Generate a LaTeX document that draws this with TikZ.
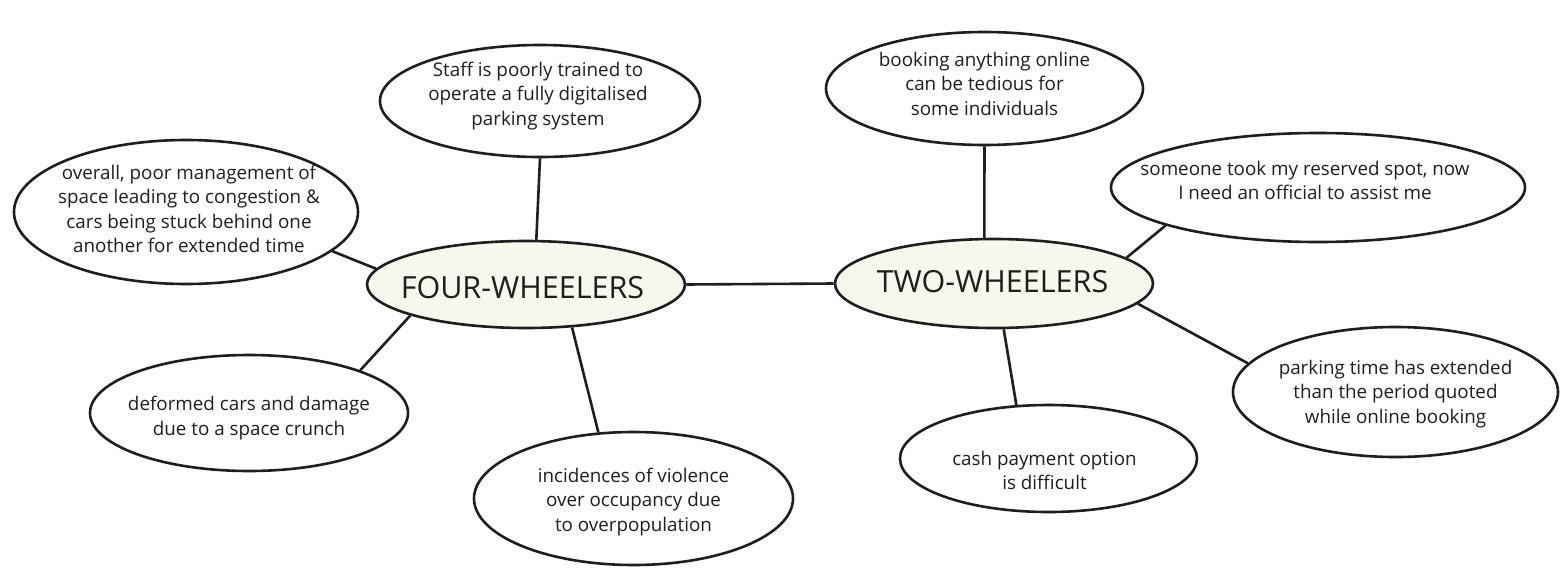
\documentclass[tikz,border=0pt]{standalone}
\usepackage{fontspec}
\setmainfont{Open Sans}
\usetikzlibrary{shapes.geometric}
\definecolor{cream}{RGB}{248,247,237}
\definecolor{ink}{RGB}{30,30,30}
\begin{document}
\begin{tikzpicture}[x=1pt,y=-1pt,
  bub/.style={draw=ink, line width=2.6pt, ellipse, inner sep=0pt, fill=white},
  hub/.style={bub, fill=cream},
  hubtxt/.style={font=\fontsize{30.5}{36}\selectfont, text=ink, inner sep=0pt},
  txt/.style={align=center, font=\fontsize{18.8}{24.5}\selectfont, text=ink, inner sep=0pt},
  link/.style={line width=2.6pt, draw=ink}]
\useasboundingbox[fill=white] (0,0) rectangle (1564,576);
% hubs
\node[hub, minimum width=318pt, minimum height=87pt] (fw) at (526,284.5) {};
\node[hub, minimum width=318pt, minimum height=89pt] (tw) at (994,283.5) {};
\node[hubtxt] (fwT) at ([shift={(-3.5,3)}]fw.center) {FOUR-WHEELERS};
\node[hubtxt] (twT) at ([shift={(-1.5,-2)}]tw.center) {TWO-WHEELERS};
% bubbles
\node[bub, minimum width=320pt, minimum height=112pt] (staff) at (540,101) {};
\node[bub, minimum width=344pt, minimum height=144pt] (overall) at (186,212) {};
\node[bub, minimum width=318pt, minimum height=116pt] (deformed) at (249,413) {};
\node[bub, minimum width=319pt, minimum height=133pt] (incid) at (633.5,498.5) {};
\node[bub, minimum width=317pt, minimum height=113pt] (booking) at (984.5,88.5) {};
\node[bub, minimum width=414pt, minimum height=109pt] (someone) at (1318,187.5) {};
\node[bub, minimum width=325pt, minimum height=130pt] (parking) at (1395.5,392) {};
\node[bub, minimum width=297pt, minimum height=107pt] (cash) at (1048.5,458.5) {};
% texts
\node[txt] (staffT) at ([shift={(-2,-5)}]staff.center) {Staff is poorly trained to\\operate a fully digitalised\\parking system};
\node[txt] (overallT) at ([shift={(3,-3)}]overall.center) {overall, poor management of\\space leading to congestion \&\\cars being stuck behind one\\another for extended time};
\node[txt] (deformedT) at ([shift={(0,5)}]deformed.center) {deformed cars and damage\\due to a space crunch};
\node[txt] (incidT) at ([shift={(0,3.5)}]incid.center) {incidences of violence\\over occupancy due\\to overpopulation};
\node[txt] (bookingT) at ([shift={(0,-5)}]booking.center) {booking anything online\\can be tedious for\\some individuals};
\node[txt] (someoneT) at ([shift={(-13,-7)}]someone.center) {someone took my reserved spot, now\\I need an official to assist me};
\node[txt] (parkingT) at ([shift={(0,2)}]parking.center) {parking time has extended\\than the period quoted\\while online booking};
\node[txt] (cashT) at ([shift={(-4,12)}]cash.center) {cash payment option\\is difficult};
% connectors
\draw[link] (fw.east) -- (tw.west);
\draw[link] (fw.77) -- (staff.south);
\draw[link] (fw.174) -- (overall.-15.5);
\draw[link] (fw.-165.2) -- (deformed.21.8);
\draw[link] (fw.-43.4) -- (incid.118.5);
\draw[link] (tw.102.7) -- (booking.south);
\draw[link] (tw.11.7) -- (someone.-166.9);
\draw[link] (tw.-8.7) -- (parking.169.3);
\draw[link] (tw.-78.6) -- (cash.121.8);
\end{tikzpicture}
\end{document}
